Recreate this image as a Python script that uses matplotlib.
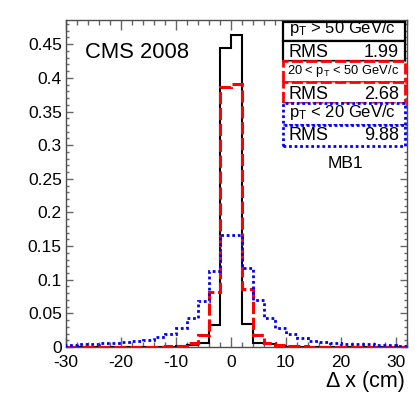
import numpy as np
import matplotlib
matplotlib.use('Agg')
import matplotlib.pyplot as plt
from matplotlib.patches import Rectangle
from matplotlib.ticker import MultipleLocator, FuncFormatter

plt.rcParams['font.family'] = ['Liberation Sans', 'DejaVu Sans']
plt.rcParams['mathtext.fontset'] = 'custom'
plt.rcParams['mathtext.rm'] = 'Liberation Sans'
plt.rcParams['mathtext.it'] = 'Liberation Sans'
plt.rcParams['mathtext.default'] = 'regular'
plt.rcParams['axes.unicode_minus'] = False

# ── Data: residual distributions, bins of 2 cm from -30 to 32 ─────────────────
bin_edges = np.arange(-30, 34, 2)

high_pt = [0, 0, 0, 0, 0, 0, 0, 0, 0, 0,
           0.001, 0.003, 0.0064, 0.0327, 0.4445, 0.4634, 0.034, 0.0064,
           0.004, 0.0015, 0.0005, 0, 0, 0, 0, 0, 0, 0, 0, 0, 0]

mid_pt = [0.0005, 0.0005, 0.0005, 0.0005, 0.0005, 0.0005, 0.0005, 0.0005,
          0.0005, 0.001, 0.002, 0.0055, 0.0178, 0.082, 0.387, 0.391, 0.086,
          0.0178, 0.0064, 0.003, 0.0015, 0.001, 0.0005, 0.0005, 0.0005,
          0.0005, 0.0005, 0.0005, 0.0005, 0.0005, 0.0005]

low_pt = [0.003, 0.0045, 0.0045, 0.0055, 0.0055, 0.007, 0.0083, 0.0108,
          0.0144, 0.0193, 0.0277, 0.0425, 0.068, 0.113, 0.167, 0.167, 0.117,
          0.070, 0.0424, 0.0277, 0.0193, 0.0129, 0.0093, 0.0068, 0.0053,
          0.0043, 0.004, 0.004, 0.003, 0.003, 0.002]

legend_titles = ["p$_{T}$ > 50 GeV/c", "20 < p$_{T}$ < 50 GeV/c",
                 "p$_{T}$ < 20 GeV/c"]
rms_values = ["1.99", "2.68", "9.88"]

# ── Figure ───────────────────────────────────────────────────────────────────
W, H = 415, 399
fig = plt.figure(figsize=(W / 100, H / 100), dpi=100)
ax = fig.add_axes([66 / W, 1 - 347 / H, (406.7 - 66) / W, (347 - 20) / H])

ax.stairs(high_pt, bin_edges, color='black', lw=1.5, zorder=3)
ax.stairs(mid_pt, bin_edges, color='#ff0000', lw=2.2,
          linestyle=(0, (4, 1.2)), zorder=4)
ax.stairs(low_pt, bin_edges, color='#0000ff', lw=2.0,
          linestyle=(0, (1, 1)), zorder=5)

ax.set_xlim(-30, 32)
ax.set_ylim(0, 0.486)
ax.xaxis.set_major_locator(MultipleLocator(10))
ax.xaxis.set_minor_locator(MultipleLocator(2))
ax.yaxis.set_major_locator(MultipleLocator(0.05))
ax.yaxis.set_minor_locator(MultipleLocator(0.01))
ax.yaxis.set_major_formatter(FuncFormatter(lambda v, p: f"{v:g}"))

ax.tick_params(axis='both', which='both', direction='in',
               top=True, right=True, colors='0.4', labelcolor='black',
               labelsize=12.5)
ax.tick_params(axis='x', which='major', length=7.2, width=1, pad=6)
ax.tick_params(axis='x', which='minor', length=3.6, width=1)
ax.tick_params(axis='y', which='major', length=4.8, width=1, pad=3)
ax.tick_params(axis='y', which='minor', length=2.4, width=1)
for s in ax.spines.values():
    s.set_color('0.3')
    s.set_linewidth(1)

fig.text(405 / W, 1 - 387 / H, "Δ x (cm)", ha='right', va='baseline',
         fontsize=15.5)
fig.text(85 / W, 1 - 58.3 / H, "CMS 2008", ha='left', va='baseline',
         fontsize=15.8)

# ── Legend boxes (drawn in pixel coords) ─────────────────────────────────────
box_x0, box_x1 = 282.7, 405
rows = [21.7, 40.7, 60.7, 81.7, 102.7, 125, 145.7]
styles = [('black', '-', 1.6), ('#ff0000', (0, (4, 1.2)), 2.0),
          ('#0000ff', (0, (1, 1)), 2.0)]
title_sizes = [12.0, 9.3, 12.0]
title_x = [289, 287, 289]
title_base = [33.3, 74, 117.3]
rms_base = [57.3, 99, 140]

for k in range(3):
    col, ls, lw = styles[k]
    for j in range(2):
        y_top = rows[2 * k + j]
        y_bot = rows[2 * k + j + 1]
        fig.patches.append(Rectangle(
            (box_x0 / W, 1 - y_bot / H), (box_x1 - box_x0) / W,
            (y_bot - y_top) / H, transform=fig.transFigure,
            facecolor='white', edgecolor=col, linestyle=ls, lw=lw,
            zorder=10))
    fig.text(title_x[k] / W, 1 - title_base[k] / H, legend_titles[k],
             ha='left', va='baseline', fontsize=title_sizes[k], zorder=11)
    fig.text(289 / W, 1 - rms_base[k] / H, "RMS", ha='left', va='baseline',
             fontsize=13, zorder=11)
    fig.text(399 / W, 1 - rms_base[k] / H, rms_values[k], ha='right',
             va='baseline', fontsize=13, zorder=11)

fig.text(345 / W, 1 - 168.3 / H, "MB1", ha='center', va='baseline',
         fontsize=12.5)

fig.savefig("out.png", dpi=100)
